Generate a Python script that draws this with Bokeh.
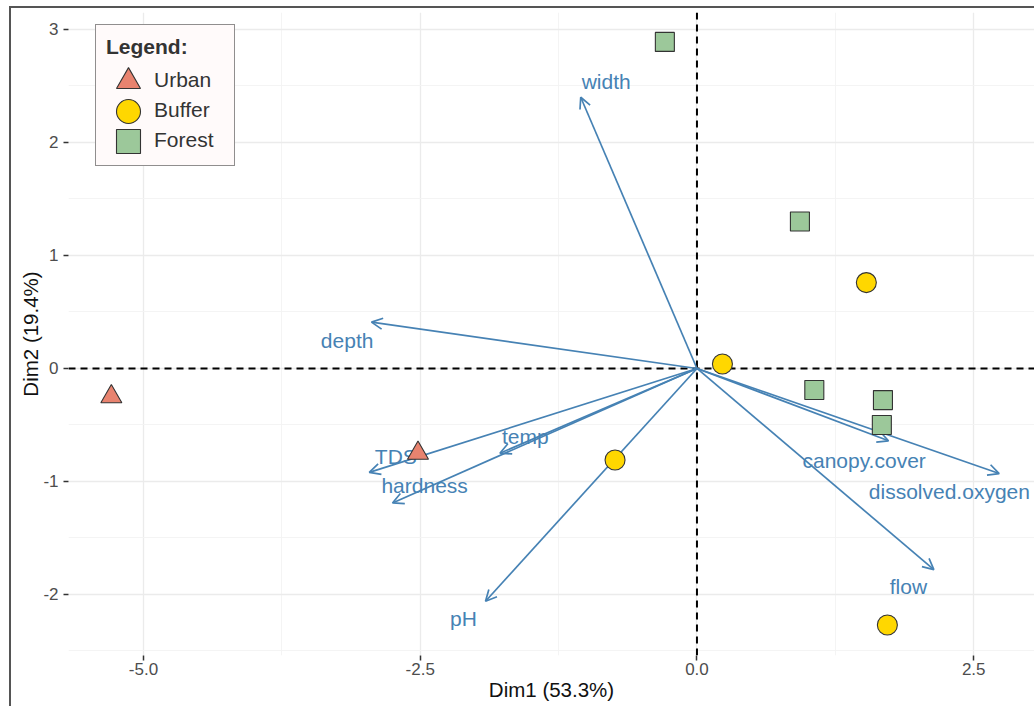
from bokeh.plotting import figure
from bokeh.models import (ColumnDataSource, Arrow, OpenHead, Span, Legend, LegendItem,
                          FixedTicker, Range1d)
from bokeh.core.properties import value
from bokeh.embed import file_html
from bokeh.resources import INLINE

# ---------------- data ----------------
urban_x = [-5.29, -2.52]
urban_y = [-0.25, -0.75]
buffer_x = [0.23, 1.53, -0.74, 1.72]
buffer_y = [0.04, 0.76, -0.81, -2.27]
forest_x = [-0.29, 0.93, 1.06, 1.68, 1.67]
forest_y = [2.89, 1.30, -0.19, -0.28, -0.50]

var_names = ["width", "depth", "TDS", "hardness", "temp", "pH",
             "canopy.cover", "dissolved.oxygen", "flow"]
var_x = [-1.05, -2.94, -2.96, -2.75, -1.78, -1.91, 1.73, 2.73, 2.14]
var_y = [2.40, 0.41, -0.92, -1.19, -0.75, -2.06, -0.64, -0.93, -1.78]
label_x = [-0.82, -3.16, -2.72, -2.46, -1.55, -2.11, 1.51, 2.28, 1.91]
label_y = [2.54, 0.25, -0.78, -1.04, -0.60, -2.21, -0.81, -1.09, -1.93]

x_ticks = [-5.0, -2.5, 0.0, 2.5]
x_tick_labels = ["-5.0", "-2.5", "0.0", "2.5"]
x_minor = [-6.25, -3.75, -1.25, 1.25, 3.75]
y_ticks = [-2, -1, 0, 1, 2, 3]
y_tick_labels = ["-2", "-1", "0", "1", "2", "3"]
y_minor = [-2.5, -1.5, -0.5, 0.5, 1.5, 2.5]

group_names = ["Urban", "Buffer", "Forest"]

FONT = "Liberation Sans"
BLUE = "#4682B4"
EDGE = "#333333"

p = figure(width=1034, height=706, output_backend="svg", toolbar_location=None,
           x_range=Range1d(-5.677, 3.049), y_range=Range1d(-2.540, 3.150),
           min_border_left=68, min_border_right=0, min_border_top=12, min_border_bottom=51)
p.outline_line_color = None
p.background_fill_color = "white"
p.border_fill_alpha = 0
p.styles = {
    "background-color": "white",
    "background-image": "linear-gradient(#555555, #555555), linear-gradient(#555555, #555555)",
    "background-size": "2px 100%, 100% 2px",
    "background-position": "9px 6px, 9px 6px",
    "background-repeat": "no-repeat",
}

# axes
xt = FixedTicker(ticks=x_ticks, minor_ticks=x_minor)
yt = FixedTicker(ticks=y_ticks, minor_ticks=y_minor)
p.xaxis.ticker = xt
p.yaxis.ticker = yt
p.xgrid.ticker = xt
p.ygrid.ticker = yt
p.xaxis.major_label_overrides = {t: s for t, s in zip(x_ticks, x_tick_labels)}
p.yaxis.major_label_overrides = {t: s for t, s in zip(y_ticks, y_tick_labels)}

for ax in (p.xaxis, p.yaxis):
    ax.axis_line_color = None
    ax.minor_tick_line_color = None
    ax.major_tick_line_color = "#333333"
    ax.major_tick_line_width = 1.5
    ax.major_tick_out = 5
    ax.major_tick_in = 0
    ax.major_label_text_font = FONT
    ax.major_label_text_font_size = "17px"
    ax.major_label_text_color = "#4D4D4D"
    ax.axis_label_text_font = FONT
    ax.axis_label_text_font_size = "20.5px"
    ax.axis_label_text_font_style = "normal"
    ax.axis_label_text_color = "#111111"

p.xaxis.axis_label = "Dim1 (53.3%)"
p.yaxis.axis_label = "Dim2 (19.4%)"
p.xaxis.major_label_standoff = 2
p.xaxis.axis_label_standoff = 0
p.yaxis.major_label_standoff = 5
p.yaxis.axis_label_standoff = -2

for g in (p.xgrid, p.ygrid):
    g.grid_line_color = "#EBEBEB"
    g.grid_line_width = 1.3
    g.minor_grid_line_color = "#F3F3F3"
    g.minor_grid_line_width = 0.9

# zero lines
p.add_layout(Span(location=0, dimension="width", line_color="black",
                  line_dash="7 5", line_width=2, level="underlay"))
p.add_layout(Span(location=0, dimension="height", line_color="black",
                  line_dash="7 5", line_width=2, level="underlay"))

# variable arrows
asrc = ColumnDataSource(dict(x0=[0.0] * len(var_x), y0=[0.0] * len(var_y),
                             x1=var_x, y1=var_y))
p.add_layout(Arrow(x_start="x0", y_start="y0", x_end="x1", y_end="y1", source=asrc,
                   line_color=BLUE, line_width=1.7, level="underlay",
                   end=OpenHead(size=11, line_color=BLUE, line_width=1.7)))

lsrc = ColumnDataSource(dict(x=label_x, y=label_y, t=var_names))
p.text(x="x", y="y", text="t", source=lsrc, text_align="center", text_baseline="middle",
       text_color=BLUE, text_font=value(FONT), text_font_size="21px")

# individuals
r_u = p.scatter(urban_x, urban_y, marker="triangle", size=21, fill_color="#E8836F",
                line_color=EDGE, line_width=1.1)
r_b = p.scatter(buffer_x, buffer_y, marker="circle", size=20, fill_color="#FFD700",
                line_color=EDGE, line_width=1.1)
r_f = p.scatter(forest_x, forest_y, marker="square", size=19, fill_color="#9CC89A",
                line_color=EDGE, line_width=1.1)
renderers = [r_u, r_b, r_f]

legend = Legend(items=[LegendItem(label=n, renderers=[r]) for n, r in
                       zip(group_names, renderers)],
                title="Legend:", location=(27, 489),
                title_text_font=FONT, title_text_font_size="21px",
                title_text_font_style="bold", title_text_color="#333333",
                title_standoff=6,
                label_text_font=FONT, label_text_font_size="21px",
                label_text_color="#333333",
                glyph_width=46, glyph_height=30, label_height=30, label_width=70,
                label_standoff=2, spacing=0, padding=10, margin=0,
                border_line_color="#222222", border_line_width=1.5,
                background_fill_color="#FFFAFA", background_fill_alpha=1.0)
p.add_layout(legend)

# full-size legend keys drawn over each entry
for k, r in enumerate(renderers):
    key = Legend(items=[LegendItem(label=" ", renderers=[r])],
                 location=(30, 544 - 30 * k),
                 glyph_width=60, glyph_height=60, label_height=60, label_width=1,
                 label_standoff=0, label_text_font_size="1px", padding=0, margin=0,
                 spacing=0, border_line_alpha=0, background_fill_alpha=0)
    p.add_layout(key)

open("out.html", "w").write(file_html(p, INLINE))
